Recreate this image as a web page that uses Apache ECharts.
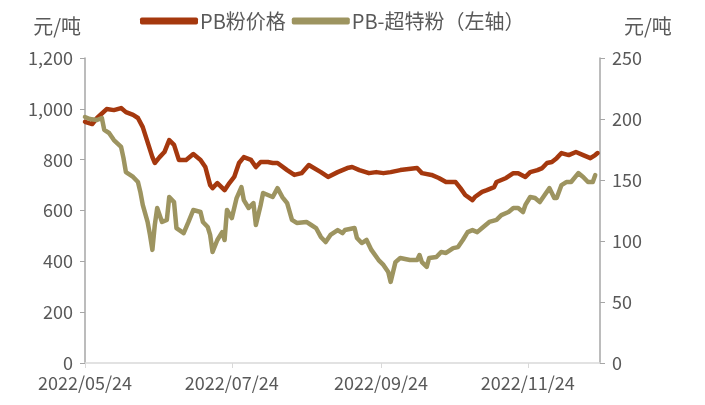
<!DOCTYPE html>
<html>
<head>
<meta charset="utf-8">
<script src="https://cdn.jsdelivr.net/npm/echarts@6/dist/echarts.min.js"></script>
<style>
  html, body { margin: 0; padding: 0; background: #fff; }
  #chart { width: 705px; height: 405px; }
</style>
</head>
<body>
<div id="chart"></div>
<script>
// PB粉价格
var pbDates = ['2022-05-24','2022-05-27','2022-05-29','2022-06-02','2022-06-05','2022-06-08','2022-06-10','2022-06-13','2022-06-15','2022-06-17',
  '2022-06-19','2022-06-21','2022-06-22','2022-06-24','2022-06-26','2022-06-28','2022-06-30','2022-07-02','2022-07-05','2022-07-08',
  '2022-07-11','2022-07-13','2022-07-15','2022-07-16','2022-07-18','2022-07-21','2022-07-23','2022-07-25','2022-07-27','2022-07-29',
  '2022-08-01','2022-08-03','2022-08-05','2022-08-08','2022-08-10','2022-08-12','2022-08-16','2022-08-19','2022-08-22','2022-08-25',
  '2022-08-30','2022-09-02','2022-09-06','2022-09-08','2022-09-10','2022-09-12','2022-09-15','2022-09-19','2022-09-22','2022-09-25',
  '2022-09-28','2022-10-02','2022-10-09','2022-10-11','2022-10-15','2022-10-18','2022-10-21','2022-10-25','2022-10-27','2022-10-29',
  '2022-11-01','2022-11-02','2022-11-05','2022-11-07','2022-11-10','2022-11-11','2022-11-15','2022-11-18','2022-11-20','2022-11-23',
  '2022-11-25','2022-11-28','2022-11-30','2022-12-02','2022-12-04','2022-12-06','2022-12-08','2022-12-11','2022-12-14','2022-12-17',
  '2022-12-20','2022-12-22','2022-12-23'];
var pbPrice = [949,940,964,999,995,1003,987,976,964,928,
  869,810,787,810,830,877,858,799,799,822,
  799,771,700,688,708,680,708,732,787,810,
  799,771,791,791,787,787,759,740,747,779,
  751,732,751,759,767,771,759,747,751,747,
  751,759,767,747,740,728,712,712,688,661,
  641,653,673,680,692,712,728,747,747,732,
  751,759,767,787,791,806,826,818,830,818,
  806,818,826];

// PB-超特粉（左轴）
var sfDates = ['2022-05-24','2022-05-26','2022-05-29','2022-05-31','2022-06-01','2022-06-03','2022-06-05','2022-06-08','2022-06-09','2022-06-10',
  '2022-06-13','2022-06-15','2022-06-16','2022-06-17','2022-06-19','2022-06-20','2022-06-21','2022-06-22','2022-06-23','2022-06-25',
  '2022-06-27','2022-06-28','2022-06-30','2022-07-01','2022-07-04','2022-07-06','2022-07-08','2022-07-11','2022-07-12','2022-07-14',
  '2022-07-15','2022-07-16','2022-07-18','2022-07-20','2022-07-21','2022-07-22','2022-07-24','2022-07-26','2022-07-28','2022-07-29',
  '2022-07-31','2022-08-02','2022-08-03','2022-08-05','2022-08-06','2022-08-08','2022-08-10','2022-08-12','2022-08-14','2022-08-16',
  '2022-08-18','2022-08-20','2022-08-24','2022-08-26','2022-08-28','2022-08-30','2022-09-01','2022-09-03','2022-09-06','2022-09-08',
  '2022-09-09','2022-09-13','2022-09-14','2022-09-16','2022-09-18','2022-09-20','2022-09-23','2022-09-25','2022-09-27','2022-09-28',
  '2022-09-30','2022-10-02','2022-10-06','2022-10-09','2022-10-10','2022-10-11','2022-10-13','2022-10-14','2022-10-17','2022-10-19',
  '2022-10-21','2022-10-24','2022-10-26','2022-10-28','2022-10-30','2022-11-01','2022-11-03','2022-11-05','2022-11-08','2022-11-11',
  '2022-11-13','2022-11-16','2022-11-18','2022-11-20','2022-11-22','2022-11-23','2022-11-25','2022-11-27','2022-11-29','2022-12-01',
  '2022-12-03','2022-12-05','2022-12-06','2022-12-08','2022-12-10','2022-12-12','2022-12-15','2022-12-17','2022-12-19','2022-12-21',
  '2022-12-22'];
var sfPrice = [968,960,956,964,917,905,877,850,806,751,
  732,712,673,622,555,504,445,543,610,555,
  563,653,633,531,511,555,602,594,555,535,
  504,437,484,515,484,602,570,649,692,641,
  610,629,543,622,669,661,653,688,653,629,
  563,551,555,543,531,496,476,504,523,511,
  523,531,492,472,484,445,405,386,358,319,
  397,413,405,405,425,397,378,413,417,437,
  433,452,456,484,515,523,515,531,555,563,
  582,594,610,610,594,622,653,649,633,661,
  688,649,649,700,712,712,747,732,712,712,
  739];

var xStart = '2022-05-24';
var xEnd = '2022-12-24';
var xTicks = ['2022-05-24','2022-07-24','2022-09-24','2022-11-24'];
var leftTicks = [0, 1200, 200];
var rightTicks = [0, 250, 50];

// one category per calendar day
function dayList(a, b) {
  var out = [];
  var p = a.split('-'), q = b.split('-');
  var d = new Date(Date.UTC(+p[0], +p[1] - 1, +p[2]));
  var end = Date.UTC(+q[0], +q[1] - 1, +q[2]);
  while (d.getTime() <= end) {
    out.push(d.toISOString().slice(0, 10));
    d.setUTCDate(d.getUTCDate() + 1);
  }
  return out;
}
function zip(d, v) {
  return d.map(function (x, i) { return [x, v[i]]; });
}
var days = dayList(xStart, xEnd);
function isTick(i, v) { return xTicks.indexOf(v) >= 0; }

var textColor = '#595959';
var font = "'Noto Sans CJK SC', 'Noto Sans', sans-serif";

var chart = echarts.init(document.getElementById('chart'));
var option = {
  animation: false,
  backgroundColor: '#fff',
  textStyle: { fontFamily: font },
  grid: { left: 85, right: 105, top: 58, bottom: 42 },
  legend: {
    left: 135,
    top: 6,
    itemGap: 6,
    itemWidth: 58,
    itemHeight: 7,
    icon: 'roundRect',
    textStyle: { fontSize: 20, color: textColor, fontFamily: font, padding: [0, 0, 0, -3] },
    data: ['PB粉价格', 'PB-超特粉（左轴）']
  },
  xAxis: {
    type: 'category',
    data: days,
    boundaryGap: false,
    axisLine: { lineStyle: { color: '#D9D9D9', width: 1.5 } },
    axisTick: { show: true, length: 5, interval: isTick, lineStyle: { color: '#D9D9D9' } },
    axisLabel: {
      interval: isTick,
      color: textColor,
      fontSize: 18,
      margin: 11,
      formatter: function (v) { return v.replace(/-/g, '/'); }
    },
    splitLine: { show: false }
  },
  yAxis: [
    {
      type: 'value',
      name: '元/吨',
      nameLocation: 'end',
      nameGap: 22,
      nameTextStyle: { color: textColor, fontSize: 20, align: 'right', padding: [0, 4, 0, 0] },
      min: leftTicks[0],
      max: leftTicks[1],
      interval: leftTicks[2],
      axisLine: { show: true, lineStyle: { color: '#A6A6A6', width: 1.5 } },
      axisTick: { show: true, length: 5, lineStyle: { color: '#A6A6A6' } },
      axisLabel: { color: textColor, fontSize: 18, margin: 12,
        formatter: function (v) { return v.toLocaleString('en-US'); } },
      splitLine: { show: false }
    },
    {
      type: 'value',
      name: '元/吨',
      nameLocation: 'end',
      nameGap: 22,
      nameTextStyle: { color: textColor, fontSize: 20, align: 'left', padding: [0, 0, 0, 24] },
      min: rightTicks[0],
      max: rightTicks[1],
      interval: rightTicks[2],
      position: 'right',
      axisLine: { show: true, lineStyle: { color: '#A6A6A6', width: 1.5 } },
      axisTick: { show: true, length: 5, lineStyle: { color: '#A6A6A6' } },
      axisLabel: { color: textColor, fontSize: 18, margin: 12 },
      splitLine: { show: false }
    }
  ],
  series: [
    {
      name: 'PB粉价格',
      type: 'line',
      yAxisIndex: 0,
      data: zip(pbDates, pbPrice),
      showSymbol: false,
      color: '#A5380E',
      lineStyle: { width: 4.5, color: '#A5380E', join: 'round', cap: 'round' }
    },
    {
      name: 'PB-超特粉（左轴）',
      type: 'line',
      yAxisIndex: 0,
      data: zip(sfDates, sfPrice),
      showSymbol: false,
      color: '#9D9460',
      lineStyle: { width: 4.5, color: '#9D9460', join: 'round', cap: 'round' }
    }
  ]
};
chart.setOption(option);
</script>
</body>
</html>
